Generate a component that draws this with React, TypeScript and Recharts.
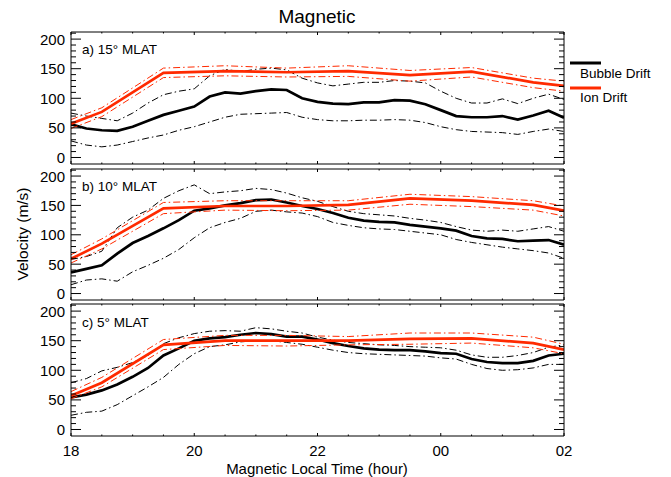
import React from 'react';
import { LineChart, Line, XAxis, YAxis } from 'recharts';

// hour grid of the bubble drift curves (24 = 00 MLT, 26 = 02 MLT)
const hours = [
  18, 18.25, 18.5, 18.75, 19, 19.25, 19.5, 19.75, 20, 20.25, 20.5, 20.75, 21, 21.25, 21.5, 21.75,
  22, 22.25, 22.5, 22.75, 23, 23.25, 23.5, 23.75, 24, 24.25, 24.5, 24.75, 25, 25.25, 25.5, 25.75, 26,
];
// ion drift bins
const ionHours = [18, 18.5, 19.5, 20.5, 21.5, 22.5, 23.5, 24.5, 25.5, 26];

const xTicks = [18, 18.5, 19, 19.5, 20, 20.5, 21, 21.5, 22, 22.5, 23, 23.5, 24, 24.5, 25, 25.5, 26];
const xMajor = [18, 20, 22, 24, 26];
const xTickLabels = ['18', '20', '22', '00', '02'];
const yTicks = [0, 10, 20, 30, 40, 50, 60, 70, 80, 90, 100, 110, 120, 130, 140, 150, 160, 170, 180, 190, 200, 210];
const yMajor = [0, 50, 100, 150, 200];

// a) 15 MLAT
const bubbleA = [56, 49, 46, 45, 52, 62, 72, 79, 86, 103, 110, 108, 112, 115, 114, 100, 94, 91, 90, 93, 93, 97, 96, 90, 80, 70, 68, 68, 70, 64, 71, 79, 67];
const bubbleAHi = [75, 70, 66, 62, 75, 92, 106, 112, 116, 138, 149, 145, 149, 151, 148, 134, 126, 121, 124, 127, 127, 130, 129, 126, 112, 100, 92, 92, 99, 91, 100, 107, 98];
const bubbleALo = [28, 21, 18, 21, 27, 33, 38, 46, 52, 60, 68, 73, 74, 75, 76, 68, 64, 62, 62, 63, 63, 64, 63, 59, 52, 47, 44, 43, 42, 39, 44, 48, 44];
const ionA = [57, 77, 143, 146, 144, 146, 139, 145, 127, 121];
const ionAHi = [64, 84, 151, 155, 151, 155, 147, 152, 134, 129];
const ionALo = [49, 69, 135, 138, 136, 137, 129, 136, 118, 112];

// b) 10 MLAT
const bubbleB = [36, 42, 48, 68, 86, 98, 111, 125, 141, 145, 150, 154, 159, 160, 155, 149, 144, 137, 129, 124, 122, 121, 117, 114, 111, 107, 98, 94, 93, 89, 90, 91, 83];
const bubbleBHi = [58, 63, 72, 112, 130, 142, 162, 175, 185, 170, 173, 175, 179, 177, 171, 163, 157, 148, 140, 136, 134, 132, 128, 125, 121, 114, 108, 106, 108, 106, 110, 114, 106];
const bubbleBLo = [15, 23, 25, 21, 37, 48, 60, 75, 95, 112, 121, 128, 140, 142, 139, 137, 131, 121, 116, 112, 110, 109, 106, 103, 100, 92, 87, 83, 79, 76, 73, 69, 60];
const ionB = [59, 85, 145, 149, 149, 151, 162, 158, 151, 141];
const ionBHi = [66, 93, 155, 158, 158, 158, 169, 165, 158, 149];
const ionBLo = [52, 76, 136, 142, 141, 142, 152, 148, 142, 132];

// c) 5 MLAT
const bubbleC = [54, 59, 66, 76, 89, 104, 125, 137, 150, 154, 156, 160, 163, 161, 157, 157, 152, 146, 141, 137, 135, 134, 134, 132, 129, 128, 119, 114, 112, 112, 116, 125, 128];
const bubbleCHi = [79, 86, 99, 105, 113, 125, 145, 155, 162, 166, 167, 166, 172, 170, 166, 163, 156, 151, 147, 145, 143, 142, 140, 139, 138, 134, 126, 122, 122, 125, 130, 139, 143];
const bubbleCLo = [24, 29, 31, 42, 57, 72, 88, 110, 128, 140, 143, 148, 150, 150, 147, 144, 139, 134, 130, 128, 127, 126, 125, 124, 121, 119, 110, 103, 100, 101, 104, 110, 110];
const ionC = [57, 79, 143, 150, 150, 150, 153, 154, 146, 135];
const ionCHi = [64, 88, 152, 159, 159, 157, 163, 163, 156, 144];
const ionCLo = [52, 72, 135, 142, 141, 143, 144, 146, 138, 128];

const RED = '#ff2a00';
const FONT = "'Liberation Sans', Arial, Helvetica, sans-serif";
const W = 671;
const LEFT = 71;
const RIGHT = 564;
const DASHDOT = '7 3 1.5 3';

const pts = (xs: number[], vs: number[]) => xs.map((t, i) => ({ t, v: vs[i] }));
const isMajor = (list: number[], v: number) => list.some((m) => Math.abs(m - v) < 1e-6);

const LeftTick = (p: any) => {
  const v = p.payload.value;
  const major = isMajor(yMajor, v);
  return (
    <g>
      <line x1={p.x} x2={p.x + (major ? 10 : 5)} y1={p.y} y2={p.y} stroke="#000" strokeWidth={1} />
      {major && (
        <text x={p.x - 6} y={p.y + 5.5} textAnchor="end" fontSize={15} fontFamily={FONT} fill="#000">
          {v}
        </text>
      )}
    </g>
  );
};

const RightTick = (p: any) => {
  const major = isMajor(yMajor, p.payload.value);
  return <line x1={p.x} x2={p.x - (major ? 10 : 5)} y1={p.y} y2={p.y} stroke="#000" strokeWidth={1} />;
};

const TopTick = (p: any) => {
  const major = isMajor(xMajor, p.payload.value);
  return <line x1={p.x} x2={p.x} y1={p.y} y2={p.y + (major ? 3 : 1.5)} stroke="#000" strokeWidth={1} />;
};

const makeBottomTick = (showLabels: boolean) => (p: any) => {
  const v = p.payload.value;
  const idx = xMajor.findIndex((m) => Math.abs(m - v) < 1e-6);
  return (
    <g>
      <line x1={p.x} x2={p.x} y1={p.y} y2={p.y - (idx >= 0 ? 3 : 1.5)} stroke="#000" strokeWidth={1} />
      {showLabels && idx >= 0 && (
        <text x={p.x} y={p.y + 20} textAnchor="middle" fontSize={15} fontFamily={FONT} fill="#000">
          {xTickLabels[idx]}
        </text>
      )}
    </g>
  );
};

interface PanelProps {
  top: number;
  height: number;
  bubble: number[];
  bubbleHi: number[];
  bubbleLo: number[];
  ion: number[];
  ionHi: number[];
  ionLo: number[];
  showX?: boolean;
}

function Panel({ top, height, bubble, bubbleHi, bubbleLo, ion, ionHi, ionLo, showX }: PanelProps) {
  const mt = 12;
  const mb = showX ? 30 : 12;
  // axes are 1px thick boxes (recharts skips 0-sized axes), so margins are reduced by 1
  const axisCommon = { axisLine: { stroke: '#000', strokeWidth: 1 }, tickLine: false, tickSize: 0, tickMargin: 0, interval: 0 as const };
  const thin = { strokeWidth: 1, strokeDasharray: DASHDOT, dot: false, isAnimationActive: false, type: 'linear' as const, xAxisId: 'b', yAxisId: 'l', dataKey: 'v' };
  const thick = { strokeWidth: 2.7, dot: false, isAnimationActive: false, type: 'linear' as const, xAxisId: 'b', yAxisId: 'l', dataKey: 'v' };
  return (
    <div style={{ position: 'absolute', left: 0, top: top - mt }}>
      <LineChart
        width={W}
        height={height + mt + mb}
        margin={{ top: mt - 1, bottom: mb - 1, left: LEFT - 1, right: W - RIGHT - 1 }}
      >
        <XAxis xAxisId="b" dataKey="t" type="number" domain={[18, 26]} allowDataOverflow ticks={xTicks} height={1} tick={makeBottomTick(!!showX)} {...axisCommon} />
        <XAxis xAxisId="t" orientation="top" dataKey="t" type="number" domain={[18, 26]} allowDataOverflow ticks={xTicks} height={1} tick={TopTick} {...axisCommon} />
        <YAxis yAxisId="l" type="number" domain={[-11, 212]} allowDataOverflow ticks={yTicks} width={1} tick={LeftTick} {...axisCommon} />
        <YAxis yAxisId="r" orientation="right" type="number" domain={[-11, 212]} allowDataOverflow ticks={yTicks} width={1} tick={RightTick} {...axisCommon} />
        <Line data={pts(hours, bubbleHi)} stroke="#000" {...thin} />
        <Line data={pts(hours, bubbleLo)} stroke="#000" {...thin} />
        <Line data={pts(hours, bubble)} stroke="#000" {...thick} />
        <Line data={pts(ionHours, ionHi)} stroke={RED} {...thin} />
        <Line data={pts(ionHours, ionLo)} stroke={RED} {...thin} />
        <Line data={pts(ionHours, ion)} stroke={RED} {...thick} />
      </LineChart>
    </div>
  );
}

export default function App() {
  return (
    <div style={{ position: 'absolute', left: 0, top: 0, width: W, height: 477, background: '#fff', fontFamily: FONT }}>
      <Panel top={32} height={132} bubble={bubbleA} bubbleHi={bubbleAHi} bubbleLo={bubbleALo} ion={ionA} ionHi={ionAHi} ionLo={ionALo} />
      <Panel top={169} height={131} bubble={bubbleB} bubbleHi={bubbleBHi} bubbleLo={bubbleBLo} ion={ionB} ionHi={ionBHi} ionLo={ionBLo} />
      <Panel top={304} height={132} bubble={bubbleC} bubbleHi={bubbleCHi} bubbleLo={bubbleCLo} ion={ionC} ionHi={ionCHi} ionLo={ionCLo} showX />
      <svg width={W} height={477} style={{ position: 'absolute', left: 0, top: 0, pointerEvents: 'none' }}>
        <text x={317} y={23} textAnchor="middle" fontSize={19} fontFamily={FONT}>Magnetic</text>
        <text x={82} y={54} fontSize={13.5} fontFamily={FONT}>a) 15° MLAT</text>
        <text x={82} y={191} fontSize={13.5} fontFamily={FONT}>b) 10° MLAT</text>
        <text x={82} y={327} fontSize={13.5} fontFamily={FONT}>c) 5° MLAT</text>
        <text x={317} y={473.5} textAnchor="middle" fontSize={15} fontFamily={FONT}>Magnetic Local Time (hour)</text>
        <text transform="translate(28,234) rotate(-90)" textAnchor="middle" fontSize={15.5} fontFamily={FONT}>Velocity (m/s)</text>
        <line x1={570} x2={601} y1={63} y2={63} stroke="#000" strokeWidth={3} />
        <text x={580} y={78} fontSize={13.5} fontFamily={FONT}>Bubble Drift</text>
        <line x1={570} x2={601} y1={88} y2={88} stroke={RED} strokeWidth={3} />
        <text x={580} y={102} fontSize={13.5} fontFamily={FONT}>Ion Drift</text>
      </svg>
    </div>
  );
}
